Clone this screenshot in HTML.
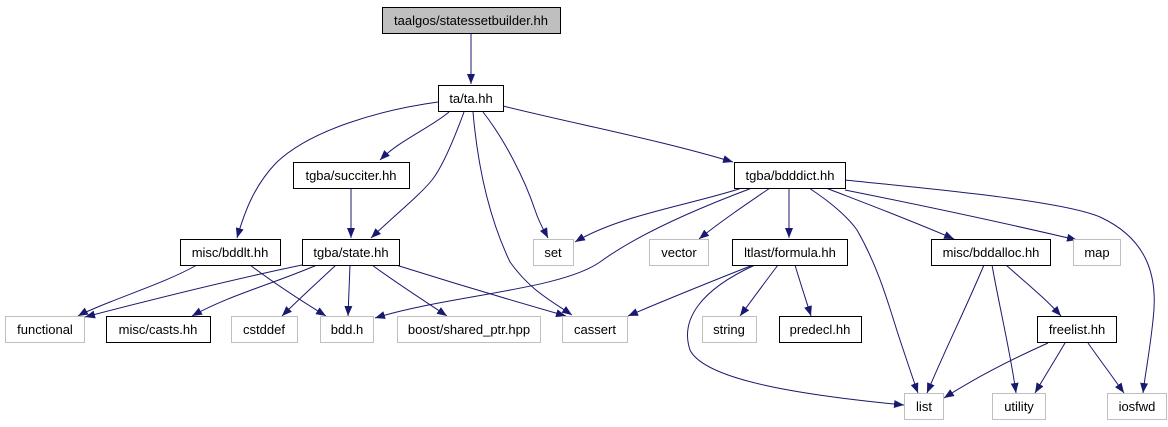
<!DOCTYPE html>
<html><head><meta charset="utf-8"><style>
html,body{margin:0;padding:0;background:#fff;width:1168px;height:427px;overflow:hidden}
svg{display:block}
text{font-family:"Liberation Sans",Arial,sans-serif;font-size:13px;fill:#000;text-anchor:middle}
.e{fill:none;stroke:#191970;stroke-width:1}
.b{fill:#fff;stroke:#000;stroke-width:1}
.g{fill:#fff;stroke:#bfbfbf;stroke-width:1}
</style></head><body>
<svg width="1168" height="427" viewBox="0 0 1168 427" xmlns="http://www.w3.org/2000/svg">
<defs><marker id="a" markerUnits="userSpaceOnUse" markerWidth="11" markerHeight="8" refX="10" refY="4" orient="auto"><path d="M0,0 L10,4 L0,8 z" fill="#191970"/></marker></defs>
<g marker-end="url(#a)">
<path class="e" d="M471,33 L471,84"/>
<path class="e" d="M438,102 C380,110 310,130 276,163 C255,185 245,210 237,238"/>
<path class="e" d="M449,112 C430,128 400,140 380,160"/>
<path class="e" d="M464,112 C450,150 440,170 432,180 C420,195 395,215 371,238"/>
<path class="e" d="M473,112 C478,170 490,220 510,262 C530,290 550,300 572,315"/>
<path class="e" d="M483,112 C505,140 525,180 535,210 C540,225 545,232 548,238"/>
<path class="e" d="M503,106 C580,125 660,140 733,162"/>
<path class="e" d="M351,188 L351,238"/>
<path class="e" d="M197,265 C170,280 140,290 110,302 C95,308 85,312 78,316"/>
<path class="e" d="M250,265 C270,280 300,300 326,316"/>
<path class="e" d="M302,265 C230,280 150,300 85,317"/>
<path class="e" d="M317,265 C270,285 230,295 192,316"/>
<path class="e" d="M336,265 C320,280 300,298 282,316"/>
<path class="e" d="M350,265 L348,316"/>
<path class="e" d="M372,265 C395,282 420,298 447,316"/>
<path class="e" d="M396,265 C450,282 510,300 566,316"/>
<path class="e" d="M742,188 C690,205 620,215 575,242"/>
<path class="e" d="M752,188 C680,215 630,240 600,262 C560,290 450,295 375,318"/>
<path class="e" d="M770,188 C745,205 720,222 699,239"/>
<path class="e" d="M789,188 L789,238"/>
<path class="e" d="M809,188 C835,205 850,220 857,230 C880,270 890,310 900,340 C910,370 915,385 918,393"/>
<path class="e" d="M826,188 C870,205 910,220 954,239"/>
<path class="e" d="M845,190 C920,205 1000,222 1077,240"/>
<path class="e" d="M845,180 C920,188 1060,200 1100,217 C1150,240 1158,280 1153,320 C1150,350 1145,375 1143,393"/>
<path class="e" d="M753,265 C710,282 670,298 628,316"/>
<path class="e" d="M755,265 C700,290 680,320 690,350 C705,380 800,395 904,405"/>
<path class="e" d="M778,265 C765,282 752,300 740,316"/>
<path class="e" d="M795,265 C800,282 806,300 811,316"/>
<path class="e" d="M984,265 C965,310 945,350 927,393"/>
<path class="e" d="M992,265 C1000,310 1010,350 1016,393"/>
<path class="e" d="M1006,265 C1025,282 1045,298 1061,316"/>
<path class="e" d="M1048,343 C1010,360 975,378 944,398"/>
<path class="e" d="M1065,343 C1055,360 1045,376 1035,393"/>
<path class="e" d="M1088,343 C1100,360 1112,376 1124,393"/>
</g>
<rect x="382.5" y="7.5" width="178" height="26" fill="#bfbfbf" stroke="#000"/><text x="471" y="25">taalgos/statessetbuilder.hh</text>
<rect class="b" x="438.5" y="85.5" width="65" height="26"/><text x="471" y="103">ta/ta.hh</text>
<rect class="b" x="293.5" y="162.5" width="116" height="26"/><text x="351" y="180">tgba/succiter.hh</text>
<rect class="b" x="734.5" y="162.5" width="111" height="26"/><text x="790" y="180">tgba/bdddict.hh</text>
<rect class="b" x="180.5" y="239.5" width="100" height="26"/><text x="230" y="257">misc/bddlt.hh</text>
<rect class="b" x="302.5" y="239.5" width="97" height="26"/><text x="351" y="257">tgba/state.hh</text>
<rect class="g" x="533.5" y="239.5" width="40" height="26"/><text x="553" y="257">set</text>
<rect class="g" x="649.5" y="239.5" width="59" height="26"/><text x="679" y="257">vector</text>
<rect class="b" x="732.5" y="239.5" width="115" height="26"/><text x="790" y="257">ltlast/formula.hh</text>
<rect class="b" x="931.5" y="239.5" width="119" height="26"/><text x="991" y="257">misc/bddalloc.hh</text>
<rect class="g" x="1073.5" y="239.5" width="47" height="26"/><text x="1097" y="257">map</text>
<rect class="g" x="5.5" y="316.5" width="79" height="26"/><text x="45" y="334">functional</text>
<rect class="b" x="106.5" y="316.5" width="104" height="26"/><text x="158" y="334">misc/casts.hh</text>
<rect class="g" x="231.5" y="316.5" width="66" height="26"/><text x="264" y="334">cstddef</text>
<rect class="g" x="320.5" y="316.5" width="53" height="26"/><text x="347" y="334">bdd.h</text>
<rect class="g" x="397.5" y="316.5" width="143" height="26"/><text x="469" y="334">boost/shared_ptr.hpp</text>
<rect class="g" x="562.5" y="316.5" width="65" height="26"/><text x="595" y="334">cassert</text>
<rect class="g" x="702.5" y="316.5" width="54" height="26"/><text x="729" y="334">string</text>
<rect class="b" x="779.5" y="316.5" width="82" height="26"/><text x="820" y="334">predecl.hh</text>
<rect class="b" x="1037.5" y="316.5" width="79" height="26"/><text x="1077" y="334">freelist.hh</text>
<rect class="g" x="904.5" y="393.5" width="39" height="26"/><text x="924" y="411">list</text>
<rect class="g" x="992.5" y="393.5" width="53" height="26"/><text x="1019" y="411">utility</text>
<rect class="g" x="1107.5" y="393.5" width="59" height="26"/><text x="1137" y="411">iosfwd</text>
</svg>
</body></html>
